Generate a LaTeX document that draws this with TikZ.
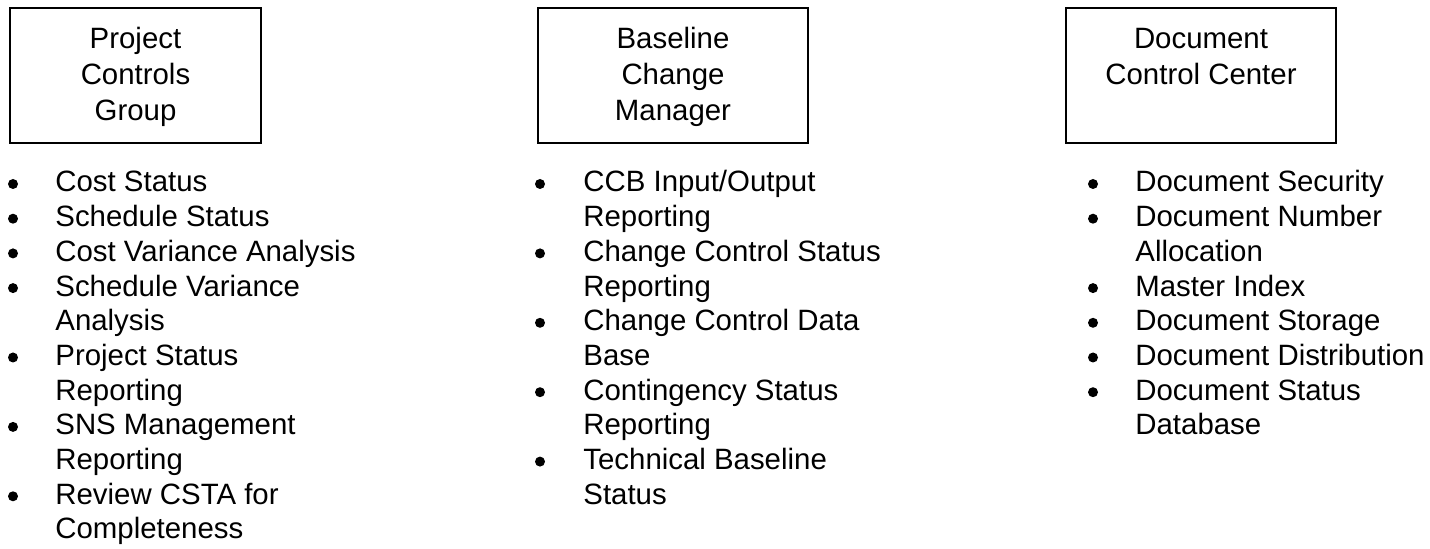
\documentclass[tikz,border=0pt]{standalone}
\usepackage{fontspec}
\setmainfont{Liberation Sans}
\usetikzlibrary{fit}
\begin{document}
\begin{tikzpicture}[x=0.5pt,y=-0.5pt,
  txt/.style={inner sep=0pt, font=\fontsize{14.7}{17.5}\selectfont},
  box/.style={draw, line width=0.6pt, inner sep=0pt},
  head/.style={txt, anchor=base},
  item/.style={txt, anchor=base west},
  dot/.style={circle, fill, inner sep=0pt, minimum size=5pt}]
\useasboundingbox (0,0) rectangle (1430,549);

% group boxes
\node[box, fit={(10,8) (261,143)}] (pcg) {};
\node[box, fit={(538,8) (808,143)}] (bcm) {};
\node[box, fit={(1066,8) (1336,143)}] (dcc) {};

% box titles, one node per line
\foreach \t [count=\k] in {Project, Controls, Group}
  \node[head] (pcg-\k) at (135.5,{49+(\k-1)*36}) {\t};
\foreach \t [count=\k] in {Baseline, Change, Manager}
  \node[head] (bcm-\k) at (673,{49+(\k-1)*36}) {\t};
\foreach \t [count=\k] in {Document, Control Center}
  \node[head] (dcc-\k) at (1201,{49+(\k-1)*36}) {\t};

% first column list
\foreach \t [count=\k] in {Cost Status, Schedule Status, Cost Variance Analysis,
    Schedule Variance, Analysis, Project Status, Reporting, SNS Management,
    Reporting, Review CSTA for, Completeness}
  \node[item] (la-\k) at (55,{192+(\k-1)*34.7}) {\t};
\foreach \k in {1,2,3,4,6,8,10}
  \node[dot] (ba-\k) at (13,{184+(\k-1)*34.7}) {};

% second column list
\foreach \t [count=\k] in {CCB Input/Output, Reporting, Change Control Status,
    Reporting, Change Control Data, Base, Contingency Status, Reporting,
    Technical Baseline, Status}
  \node[item] (lb-\k) at (583,{192+(\k-1)*34.7}) {\t};
\foreach \k in {1,3,5,7,9}
  \node[dot] (bb-\k) at (540,{184+(\k-1)*34.7}) {};

% third column list
\foreach \t [count=\k] in {Document Security, Document Number, Allocation,
    Master Index, Document Storage, Document Distribution, Document Status,
    Database}
  \node[item] (lc-\k) at (1135,{192+(\k-1)*34.7}) {\t};
\foreach \k in {1,2,4,5,6,7}
  \node[dot] (bc-\k) at (1093,{184+(\k-1)*34.7}) {};
\end{tikzpicture}
\end{document}
